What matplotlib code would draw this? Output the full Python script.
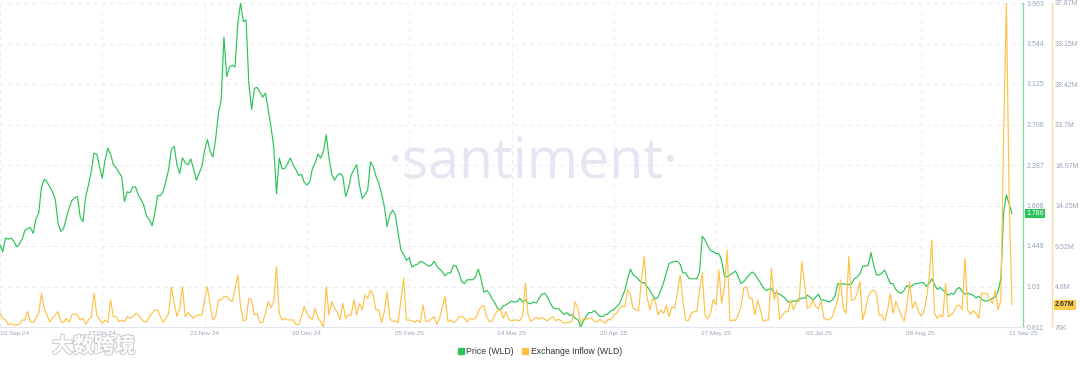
import matplotlib
matplotlib.use("Agg")
import matplotlib.pyplot as plt
import matplotlib.patheffects as pe
from matplotlib.lines import Line2D
from matplotlib.transforms import blended_transform_factory
import numpy as np
import pandas as pd

plt.rcParams['font.family'] = ['Liberation Sans', 'DejaVu Sans']

# ---------------- data ----------------
start_date = "2024-09-10"

price = [
    1.46, 1.39, 1.53, 1.52, 1.53, 1.50, 1.44, 1.47, 1.52, 1.61,
    1.63, 1.64, 1.58, 1.73, 1.79, 2.06, 2.14, 2.11, 2.06, 2.01,
    1.93, 1.68, 1.60, 1.63, 1.74, 1.84, 1.92, 1.95, 1.96, 1.75,
    1.70, 1.96, 2.08, 2.22, 2.41, 2.40, 2.27, 2.15, 2.34, 2.46,
    2.40, 2.29, 2.26, 2.21, 2.17, 1.91, 2.01, 2.00, 2.06, 2.06,
    1.98, 1.93, 1.87, 1.76, 1.72, 1.66, 1.79, 1.97, 1.97, 2.01,
    2.12, 2.24, 2.45, 2.48, 2.29, 2.20, 2.36, 2.31, 2.29, 2.35,
    2.25, 2.13, 2.20, 2.27, 2.44, 2.55, 2.43, 2.37, 2.56, 2.82,
    2.96, 3.61, 3.20, 3.30, 3.32, 3.30, 3.75, 3.963, 3.77, 3.79,
    3.13, 2.86, 3.08, 3.09, 3.04, 2.99, 3.03, 2.86, 2.68, 2.48,
    1.99, 2.36, 2.25, 2.25, 2.30, 2.36, 2.29, 2.24, 2.18, 2.19,
    2.11, 2.08, 2.11, 2.25, 2.31, 2.40, 2.36, 2.43, 2.60, 2.36,
    2.19, 2.13, 2.18, 2.20, 2.17, 1.96, 2.04, 2.18, 2.24, 2.29,
    2.08, 1.94, 1.98, 2.03, 2.32, 2.27, 2.17, 2.10, 1.99, 1.86,
    1.65, 1.77, 1.82, 1.77, 1.58, 1.41, 1.36, 1.30, 1.33, 1.23,
    1.25, 1.26, 1.29, 1.28, 1.26, 1.24, 1.25, 1.29, 1.24, 1.21,
    1.18, 1.14, 1.17, 1.17, 1.25, 1.24, 1.17, 1.08, 1.06, 1.10,
    1.10, 1.10, 1.13, 1.21, 1.11, 0.97, 0.99, 0.96, 0.90, 0.86,
    0.80, 0.79, 0.83, 0.84, 0.86, 0.88, 0.87, 0.87, 0.91, 0.87,
    0.89, 0.86, 0.85, 0.87, 0.86, 0.91, 0.95, 0.96, 0.92, 0.86,
    0.81, 0.80, 0.80, 0.77, 0.74, 0.76, 0.73, 0.74, 0.70, 0.69,
    0.611, 0.67, 0.72, 0.76, 0.76, 0.78, 0.75, 0.72, 0.72, 0.74,
    0.75, 0.78, 0.79, 0.82, 0.85, 0.92, 0.99, 1.11, 1.21, 1.15,
    1.13, 1.10, 1.07, 1.07, 1.03, 0.99, 0.94, 0.90, 0.92, 0.99,
    1.07, 1.17, 1.27, 1.28, 1.29, 1.29, 1.26, 1.17, 1.17, 1.12,
    1.11, 1.11, 1.11, 1.18, 1.55, 1.51, 1.45, 1.40, 1.39, 1.37,
    1.37, 1.30, 1.14, 1.13, 1.15, 1.17, 1.19, 1.13, 1.06, 1.08,
    1.12, 1.15, 1.18, 1.16, 1.11, 1.07, 1.02, 0.99, 1.00, 1.01,
    0.96, 0.96, 0.95, 0.93, 0.91, 0.87, 0.87, 0.88, 0.88, 0.90,
    0.91, 0.91, 0.94, 0.92, 0.89, 0.92, 0.95, 0.89, 0.89, 0.88,
    0.87, 0.89, 0.93, 1.06, 1.05, 1.06, 1.05, 1.05, 1.06, 1.11,
    1.13, 1.16, 1.24, 1.24, 1.25, 1.38, 1.25, 1.15, 1.15, 1.17,
    1.20, 1.13, 1.06, 1.06, 1.00, 0.97, 0.96, 0.99, 1.04, 1.02,
    1.04, 1.06, 1.06, 1.07, 1.07, 1.03, 1.06, 1.11, 1.05, 1.00,
    1.02, 0.99, 0.97, 0.94, 0.96, 0.95, 1.00, 1.02, 0.98, 0.95,
    0.96, 0.95, 0.94, 0.91, 0.93, 0.90, 0.88, 0.88, 0.89, 0.91,
    0.92, 0.98, 1.11, 1.80, 1.98, 1.88, 1.786,
]

inflow_m = [
    1.67, 1.09, 0.89, 0.31, 0.50, 0.31, 0.31, 0.40, 0.89, 0.89,
    1.87, 0.70, 0.60, 1.09, 1.67, 4.01, 2.26, 1.48, 0.70, 1.09,
    1.48, 1.87, 0.70, 0.60, 1.09, 0.60, 1.48, 1.60, 1.48, 0.89,
    1.09, 0.40, 0.89, 1.28, 4.01, 1.48, 0.97, 0.50, 0.89, 0.60,
    3.23, 1.28, 1.28, 0.70, 0.89, 0.70, 1.28, 1.09, 1.28, 1.67,
    1.48, 1.09, 0.70, 0.70, 1.20, 1.67, 2.06, 2.06, 1.28, 0.60,
    1.09, 1.67, 4.78, 2.84, 1.28, 2.26, 4.78, 1.28, 1.75, 1.40,
    1.09, 1.40, 1.48, 1.48, 3.23, 4.78, 2.64, 0.89, 1.28, 3.23,
    3.23, 3.62, 3.62, 3.23, 3.03, 4.60, 6.14, 2.45, 0.80, 0.89,
    3.42, 3.23, 1.48, 1.67, 0.60, 0.60, 1.67, 3.03, 2.35, 3.03,
    7.12, 1.67, 0.89, 1.09, 0.89, 0.89, 0.89, 0.40, 0.31, 1.28,
    2.45, 1.67, 1.20, 0.97, 2.26, 1.09, 0.70, 0.076, 4.78, 1.48,
    3.03, 2.26, 1.87, 0.89, 2.84, 1.09, 1.48, 1.48, 3.23, 1.48,
    2.84, 2.06, 3.81, 3.42, 4.39, 3.81, 2.06, 2.06, 0.60, 1.87,
    4.20, 1.09, 0.70, 0.80, 0.60, 3.23, 5.76, 0.89, 0.89, 0.80,
    0.60, 0.89, 0.60, 2.64, 0.70, 0.80, 1.00, 1.28, 0.40, 1.09,
    2.45, 3.62, 0.70, 0.89, 0.60, 0.80, 1.28, 1.28, 1.09, 0.70,
    1.09, 0.97, 1.09, 1.87, 2.45, 2.55, 1.28, 0.70, 0.80, 1.48,
    2.06, 2.06, 1.09, 1.87, 0.97, 0.80, 0.89, 0.89, 0.80, 1.40,
    5.17, 1.48, 0.75, 0.97, 1.20, 0.97, 1.20, 0.97, 0.80, 1.09,
    1.28, 0.80, 1.00, 0.75, 0.50, 0.60, 0.60, 0.89, 3.03, 2.26,
    0.50, 1.09, 0.97, 1.09, 1.09, 0.75, 0.70, 0.97, 0.70, 0.50,
    0.97, 0.89, 1.48, 1.67, 2.26, 2.55, 2.45, 4.39, 3.81, 2.26,
    2.06, 2.00, 5.56, 8.28, 3.62, 2.06, 3.42, 3.03, 1.48, 2.06,
    1.67, 2.64, 1.28, 2.45, 2.26, 4.01, 6.14, 3.03, 0.89, 0.80,
    1.67, 1.87, 1.87, 4.39, 6.34, 1.48, 1.00, 1.67, 3.35, 2.64,
    6.73, 2.84, 4.78, 9.06, 0.80, 0.89, 0.85, 1.48, 2.45, 4.60,
    4.78, 3.42, 3.42, 1.48, 3.23, 2.06, 0.80, 0.89, 0.89, 6.92,
    3.23, 4.39, 0.97, 1.48, 1.87, 1.87, 3.23, 2.06, 3.03, 3.03,
    7.70, 5.17, 2.26, 2.45, 3.23, 2.45, 2.26, 3.03, 1.09, 0.97,
    0.89, 1.28, 2.26, 3.23, 5.56, 2.26, 1.67, 8.28, 3.23, 3.23,
    4.01, 5.37, 0.89, 2.06, 3.62, 4.20, 4.39, 4.01, 1.48, 1.48,
    0.80, 2.06, 4.01, 1.67, 3.03, 2.26, 1.40, 0.75, 2.64, 5.37,
    2.26, 3.03, 2.06, 1.40, 1.67, 3.23, 5.56, 10.2, 1.67, 1.09,
    1.48, 1.28, 5.17, 1.28, 1.48, 1.87, 2.55, 2.64, 2.06, 8.09,
    2.06, 1.55, 2.00, 1.67, 1.09, 4.01, 4.01, 4.01, 3.23, 2.84,
    4.39, 2.06, 3.23, 22.7, 37.87, 15.0, 2.67,
]

price_ticks = [0.611, 1.03, 1.449, 1.868, 2.287, 2.706, 3.125, 3.544, 3.963]
price_tick_labels = ["0.611", "1.03", "1.449", "1.868", "2.287", "2.706", "3.125", "3.544", "3.963"]
inflow_ticks_m = [0.076, 4.8, 9.52, 14.25, 18.97, 23.7, 28.42, 33.15, 37.87]
inflow_tick_labels = ["76K", "4.8M", "9.52M", "14.25M", "18.97M", "23.7M", "28.42M", "33.15M", "37.87M"]
x_tick_labels = ["10 Sep 24", "17 Oct 24", "23 Nov 24", "30 Dec 24", "05 Feb 25",
                 "14 Mar 25", "20 Apr 25", "27 May 25", "03 Jul 25", "09 Aug 25", "11 Sep 25"]

series_names = ["Price (WLD)", "Exchange Inflow (WLD)"]
last_price_label = "1.786"
last_inflow_label = "2.67M"

# ---------------- style ----------------
GREEN = "#2bc45a"
YELLOW = "#ffc247"
TICK_COLOR = "#9aa3b8"
GRID_COLOR = "#e9ebf0"

dates = pd.date_range(start_date, periods=len(price), freq="D")
x0 = pd.Timestamp(start_date)
x_end = x0 + pd.Timedelta(days=370)
grid_dates = [x0 + pd.Timedelta(days=37 * k) for k in range(11)]

W, H = 1080, 366
fig = plt.figure(figsize=(W / 100, H / 100), dpi=100)
left_px, right_px, top_px, bot_px = 0, 1023, 3, 327
ax = fig.add_axes([left_px / W, 1 - bot_px / H, (right_px - left_px) / W, (bot_px - top_px) / H])
ax.set_facecolor("none")
ax2 = ax.twinx()

# watermark
fig.text(533 / W, 1 - 177 / H, "·santiment·", fontsize=40, color="#e4e7f1",
         ha="center", va="baseline", family="Open Sans", zorder=0)

ax.plot(dates, price, color=GREEN, lw=0.85, zorder=3)
ax2.plot(dates, inflow_m, color=YELLOW, lw=0.85, zorder=2)

ax.set_xlim(x0, x_end)
ax.set_ylim(price_ticks[0], price_ticks[-1])
ax2.set_ylim(inflow_ticks_m[0], inflow_ticks_m[-1])

# x ticks
ax.set_xticks(grid_dates)
ax.set_xticklabels(x_tick_labels)
for i, lab in enumerate(ax.get_xticklabels()):
    if i == 0:
        lab.set_horizontalalignment("left")
ax.tick_params(axis="x", length=0, pad=3, labelsize=4.6, labelcolor=TICK_COLOR)

# y ticks
ax.yaxis.tick_right()
ax.set_yticks(price_ticks)
ax.set_yticklabels(price_tick_labels)
ax.tick_params(axis="y", length=0, pad=2.5, labelsize=5, labelcolor=TICK_COLOR)
ax2.set_yticks(inflow_ticks_m)
ax2.set_yticklabels(inflow_tick_labels)
ax2.tick_params(axis="y", length=0, pad=2.2, labelsize=5, labelcolor=TICK_COLOR)

# grid
ax.grid(True, color=GRID_COLOR, lw=0.7, ls=(0, (4, 4)))
ax.set_axisbelow(True)

for s in ["top", "left"]:
    ax.spines[s].set_visible(False)
    ax2.spines[s].set_visible(False)
ax.spines["bottom"].set_color("#e3e6ec")
ax.spines["bottom"].set_linewidth(0.8)
ax2.spines["bottom"].set_visible(False)
ax.spines["right"].set_color("#86dca0")
ax.spines["right"].set_linewidth(1.0)
ax2.spines["right"].set_position(("outward", 29 * 0.72))
ax2.spines["right"].set_color("#f8df9f")
ax2.spines["right"].set_linewidth(1.0)

# last value badges
tr1 = blended_transform_factory(ax.transAxes, ax.transData)
ax.text(1.0035, price[-1], last_price_label, transform=tr1, fontsize=5, color="white",
        ha="left", va="center", zorder=10, clip_on=False,
        bbox=dict(boxstyle="square,pad=0.2", fc=GREEN, ec="none"))
tr2 = blended_transform_factory(ax2.transAxes, ax2.transData)
ax2.text(1.0 + 32 / 1023, inflow_m[-1], last_inflow_label, transform=tr2, fontsize=5,
         color="#333333", ha="left", va="center", zorder=10, clip_on=False, fontweight="bold",
         bbox=dict(boxstyle="square,pad=0.2", fc="#ffcc4d", ec="none"))

# legend
handles = [Line2D([], [], marker="s", color=GREEN, ls="none", markersize=4.3),
           Line2D([], [], marker="s", color=YELLOW, ls="none", markersize=4.3)]
fig.legend(handles, series_names, loc="center", bbox_to_anchor=(539 / W, 1 - 352 / H),
           ncol=2, frameon=False, fontsize=6.2, handletextpad=0.1, columnspacing=0.9,
           handlelength=1.0, labelcolor="#333333")

# bottom-left overlay watermark
fig.text(52 / W, 1 - 346 / H, "大数跨境", fontsize=15, color="white",
         family=["Noto Sans CJK SC", "DejaVu Sans"], fontweight="bold", ha="left", va="center",
         path_effects=[pe.withStroke(linewidth=1.5, foreground="#cfcfcf")])

fig.savefig("out.png", dpi=100)
